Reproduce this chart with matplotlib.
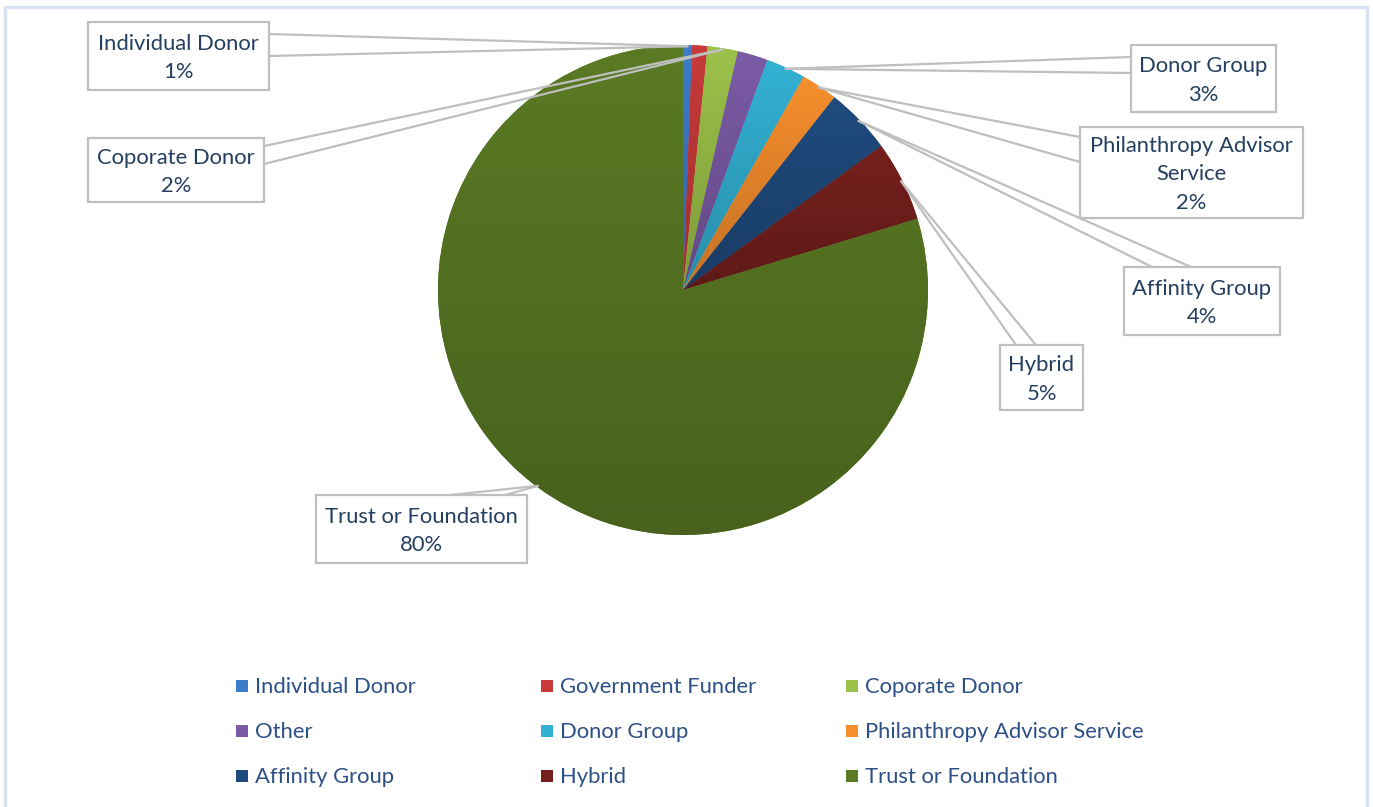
import numpy as np
import matplotlib
matplotlib.use("Agg")
import matplotlib.pyplot as plt
from matplotlib.patches import Rectangle
from matplotlib.colors import to_rgb

# data (share of respondents, %)
categories = ["Individual Donor", "Government Funder", "Coporate Donor", "Other",
              "Donor Group", "Philanthropy Advisor Service", "Affinity Group",
              "Hybrid", "Trust or Foundation"]
shares = [0.6, 1.0, 2.0, 2.0, 2.6, 2.4, 4.4, 5.3, 79.7]
colors = ["#3D7CC9", "#C93A3A", "#9CC24A", "#7B5BA6", "#33B1D3",
          "#F68E2D", "#1F4B7E", "#75201D", "#5A7A24"]

# callout labels that are shown in the original (others hidden by Excel)
label_text = {
    "Individual Donor": "Individual Donor",
    "Coporate Donor": "Coporate Donor",
    "Donor Group": "Donor Group",
    "Philanthropy Advisor Service": "Philanthropy Advisor\nService",
    "Affinity Group": "Affinity Group",
    "Hybrid": "Hybrid",
    "Trust or Foundation": "Trust or Foundation",
}

W, H = 1373, 807
# box layout in pixels: left, top, right, bottom, and the two points where the
# callout wedge meets the box
boxes = {
    "Individual Donor": ((88, 22, 269, 90), (269, 34), (269, 56)),
    "Coporate Donor": ((88, 138, 264, 202), (264, 146), (264, 164)),
    "Donor Group": ((1131, 45, 1276, 112), (1131, 57), (1131, 73)),
    "Philanthropy Advisor Service": ((1080, 127, 1303, 218), (1080, 137), (1080, 162)),
    "Affinity Group": ((1124, 267, 1280, 335), (1152, 267), (1191, 267)),
    "Hybrid": ((1000, 345, 1083, 410), (1016, 345), (1036, 345)),
    "Trust or Foundation": ((316, 495, 527, 563), (450, 495), (505, 495)),
}

plt.rcParams['font.family'] = ['Lato', 'DejaVu Sans']

fig = plt.figure(figsize=(W / 100, H / 100), dpi=100)
ax = fig.add_axes([0, 0, 1, 1])

cx, cy, R = 683, H - 290, 245
wedges, _ = ax.pie(shares, colors=colors, startangle=90, counterclock=False,
                   center=(cx, cy), radius=R, wedgeprops=dict(linewidth=0))

# excel-like vertical gradient on every slice
for w, c in zip(wedges, colors):
    ext = w.get_path().get_extents()
    rgb = np.array(to_rgb(c))
    t = np.linspace(0, 1, 64)[:, None]
    grad = rgb * (1.0 - 0.2 * t)
    img = np.repeat(grad[:, None, :], 2, axis=1)
    im = ax.imshow(img, extent=(ext.x0, ext.x1, ext.y0, ext.y1), origin="upper",
                   aspect="auto", zorder=2, interpolation="bilinear")
    im.set_clip_path(w)

gray = "#BFBFBF"
for w, name in zip(wedges, categories):
    if name not in boxes:
        continue
    (l, t, r, b), p1, p2 = boxes[name]
    mid = np.deg2rad((w.theta1 + w.theta2) / 2)
    axx, axy = cx + R * 0.995 * np.cos(mid), cy + R * 0.995 * np.sin(mid)
    for px, py in (p1, p2):
        ax.plot([axx, px], [axy, H - py], color=gray, lw=1.6, zorder=3,
                solid_capstyle="round")
    ax.add_patch(Rectangle((l, H - b), r - l, b - t, facecolor="white",
                           edgecolor=gray, lw=1.6, zorder=4))
    pct = "{:.0f}%".format(shares[categories.index(name)])
    ax.text((l + r) / 2, H - (t + b) / 2 - 2, label_text[name] + "\n" + pct,
            ha="center", va="center", fontsize=15.8, color="#243F60",
            linespacing=1.55, zorder=5)

# legend, three columns filled row by row
for i, (name, c) in enumerate(zip(categories, colors)):
    row, col = divmod(i, 3)
    x = 236 + 305 * col
    y = H - (686 + 45 * row)
    ax.add_patch(Rectangle((x, y - 6), 12, 12, facecolor=c, edgecolor="none"))
    ax.text(x + 19, y - 1, name, ha="left", va="center", fontsize=15.8,
            color="#2D5087")

# thin light-blue chart frame
frame = "#D9E2F3"
ax.plot([5, 5, 1367, 1367], [0, H - 7, H - 7, 0], color=frame, lw=2.5, zorder=1)

ax.set_xlim(0, W)
ax.set_ylim(0, H)
ax.set_aspect("auto")
ax.axis("off")

fig.savefig("out.png", dpi=100, facecolor="white")
